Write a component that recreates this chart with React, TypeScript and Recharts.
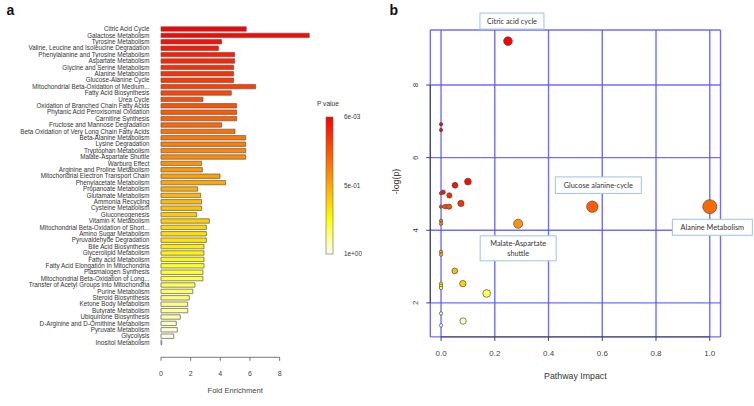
import React from 'react';
import {
  BarChart,
  Bar,
  Cell,
  XAxis,
  YAxis,
  ScatterChart,
  Scatter,
  CartesianGrid,
  ReferenceLine,
} from 'recharts';

// ---- panel a: enrichment overview ----
const pathways = [
  'Citric Acid Cycle',
  'Galactose Metabolism',
  'Tyrosine Metabolism',
  'Valine, Leucine and Isoleucine Degradation',
  'Phenylalanine and Tyrosine Metabolism',
  'Aspartate Metabolism',
  'Glycine and Serine Metabolism',
  'Alanine Metabolism',
  'Glucose-Alanine Cycle',
  'Mitochondrial Beta-Oxidation of Medium...',
  'Fatty Acid Biosynthesis',
  'Urea Cycle',
  'Oxidation of Branched Chain Fatty Acids',
  'Phytanic Acid Peroxisomal Oxidation',
  'Carnitine Synthesis',
  'Fructose and Mannose Degradation',
  'Beta Oxidation of Very Long Chain Fatty Acids',
  'Beta-Alanine Metabolism',
  'Lysine Degradation',
  'Tryptophan Metabolism',
  'Malate-Aspartate Shuttle',
  'Warburg Effect',
  'Arginine and Proline Metabolism',
  'Mitochondrial Electron Transport Chain',
  'Phenylacetate Metabolism',
  'Propanoate Metabolism',
  'Glutamate Metabolism',
  'Ammonia Recycling',
  'Cysteine Metabolism',
  'Gluconeogenesis',
  'Vitamin K Metabolism',
  'Mitochondrial Beta-Oxidation of Short...',
  'Amino Sugar Metabolism',
  'Pyruvaldehyde Degradation',
  'Bile Acid Biosynthesis',
  'Glycerolipid Metabolism',
  'Fatty acid Metabolism',
  'Fatty Acid Elongation In Mitochondria',
  'Plasmalogen Synthesis',
  'Mitochondrial Beta-Oxidation of Long...',
  'Transfer of Acetyl Groups into Mitochondria',
  'Purine Metabolism',
  'Steroid Biosynthesis',
  'Ketone Body Metabolism',
  'Butyrate Metabolism',
  'Ubiquinone Biosynthesis',
  'D-Arginine and D-Ornithine Metabolism',
  'Pyruvate Metabolism',
  'Glycolysis',
  'Inositol Metabolism',
];

const foldEnrichment = [
  5.75, 10.0, 4.09, 3.87, 4.97, 4.97, 4.9, 4.9, 4.9, 6.38,
  4.74, 2.83, 5.1, 5.1, 5.1, 4.09, 4.99, 5.71, 5.71, 5.71,
  5.71, 2.74, 2.79, 3.98, 4.36, 2.47, 2.68, 2.74, 2.74, 2.41,
  3.26, 3.06, 3.06, 3.06, 2.9, 2.9, 2.9, 2.9, 2.83, 2.83,
  2.29, 2.14, 1.91, 1.8, 1.8, 1.3, 1.03, 1.1, 0.86, 0.05,
];

const foldTicks = [0, 2, 4, 6, 8];
const pValueTicks = ['6e-03', '5e-01', '1e+00'];

// ---- panel b: pathway impact ----
const impact = [
  0.249, 0, 0, 0.1, 0.052, 0.008, 0, 0.031, 0.074, 0,
  0.016, 0.03, 0.563, 1.0, 0, 0, 0.287, 0, 0, 0.051,
  0.081, 0, 0, 0, 0.17, 0, 0.082, 0,
];
const negLogP = [
  9.21, 6.92, 6.76, 5.34, 5.24, 5.05, 5.02, 4.96, 4.74, 4.65,
  4.65, 4.65, 4.65, 4.65, 4.26, 4.18, 4.18, 3.41, 3.33, 2.88,
  2.53, 2.53, 2.47, 2.41, 2.26, 1.71, 1.5, 1.38,
];
const pointLabels = [
  'Citric acid cycle', '', '', '', '', '', '', '', '', '',
  '', '', 'Glucose alanine-cycle', 'Alanine Metabolism', '', '', 'Malate-Aspartate\nshuttle', '', '', '',
  '', '', '', '', '', '', '', '',
];
const impactTicks = [0, 0.2, 0.4, 0.6, 0.8, 1.0];
const logPTicks = [2, 4, 6, 8];

// heat.colors style ramp: red -> yellow -> near white
const heat = (t: number) => {
  if (t <= 0.75) return `rgb(255,${Math.round((255 * t) / 0.75)},0)`;
  const u = (t - 0.75) / 0.25;
  return `rgb(255,255,${Math.round(20 + 222 * u)})`;
};

const FONT = '"Liberation Sans", Arial, sans-serif';

const barData = pathways.map((name, i) => ({ name, fold: foldEnrichment[i] }));
const scatterData = impact.map((x, i) => ({
  impact: x,
  logp: negLogP[i],
  label: pointLabels[i],
  color: heat(Math.pow(i / (impact.length - 1), 1.6)),
}));
const labelled = scatterData.filter((d) => d.label);

// label box placement relative to its point
const boxStyle: Record<string, { dx: number; dy: number; w: number; h: number }> = {
  'Citric acid cycle': { dx: 4, dy: -20, w: 64, h: 16 },
  'Glucose alanine-cycle': { dx: 6, dy: -21.5, w: 86, h: 16.5 },
  'Alanine Metabolism': { dx: 2.6, dy: 20.6, w: 80, h: 16 },
  'Malate-Aspartate\nshuttle': { dx: 0, dy: 24.6, w: 76, h: 25 },
};

// bar chart geometry
const BAR_W = 320;
const BAR_MARGIN = { top: 25.8, right: 10.7, bottom: 20.2, left: 0 };
const BAR_YAXIS_W = 161;
const barPxPerUnit = (BAR_W - BAR_MARGIN.left - BAR_MARGIN.right - BAR_YAXIS_W) / 10;

const FoldTick = (props: any) => {
  const { x, y, payload } = props;
  const v = payload.value;
  return (
    <g>
      {v < 8 && (
        <line x1={x} x2={x + 2 * barPxPerUnit} y1={y + 11.5} y2={y + 11.5} stroke="#555" strokeWidth={0.8} />
      )}
      <line x1={x} x2={x} y1={y + 11.5} y2={y + 15} stroke="#555" strokeWidth={0.8} />
      <text x={x} y={y + 30} textAnchor="middle" fontSize={7} fill="#444" fontFamily={FONT}>
        {v}
      </text>
    </g>
  );
};

const PathwayTick = (props: any) => {
  const { x, y, payload } = props;
  return (
    <text x={x} y={y} dy="0.35em" textAnchor="end" fontSize={6.3} fill="#333" fontFamily={FONT}>
      {payload.value}
    </text>
  );
};

const LogPTick = (props: any) => {
  const { x, y, payload } = props;
  return (
    <text
      x={x}
      y={y}
      transform={`rotate(-90 ${x} ${y})`}
      textAnchor="middle"
      fontSize={8}
      fill="#444"
      fontFamily={FONT}
    >
      {payload.value}
    </text>
  );
};

const Dot = (props: any) => {
  const { cx, cy, payload } = props;
  const r = 1.7 + 5.3 * Math.sqrt(payload.impact);
  return <circle cx={cx} cy={cy} r={r} fill={payload.color} stroke="#4a4a4a" strokeWidth={0.7} />;
};

const LabelBox = (props: any) => {
  const { cx, cy, payload } = props;
  const s = boxStyle[payload.label];
  const lines = payload.label.split('\n');
  const bx = cx + s.dx;
  const by = cy + s.dy;
  return (
    <g>
      <rect x={bx - s.w / 2} y={by - s.h / 2} width={s.w} height={s.h} fill="#fff" stroke="#9dc3e6" strokeWidth={1} />
      {lines.map((ln: string, k: number) => (
        <text
          key={k}
          x={bx}
          y={by + (k - (lines.length - 1) / 2) * 10 + 2.6}
          textAnchor="middle"
          fontSize={7.3}
          fill="#333"
          fontFamily="Lato, sans-serif"
        >
          {ln}
        </text>
      ))}
    </g>
  );
};

const gradStops = Array.from({ length: 21 }, (_, i) => i / 20);

export default function App() {
  return (
    <div style={{ position: 'absolute', left: 0, top: 0, width: 754, height: 406, background: '#fff', fontFamily: FONT }}>
      <div style={{ position: 'absolute', left: 0, top: 0 }}>
        <BarChart width={BAR_W} height={406} data={barData} layout="vertical" margin={BAR_MARGIN}>
          <XAxis
            type="number"
            domain={[0, 10]}
            ticks={foldTicks}
            height={40}
            axisLine={false}
            tickLine={false}
            tickSize={0}
            tickMargin={0}
            tick={<FoldTick />}
            label={{ value: 'Fold Enrichment', position: 'bottom', offset: 2, fontSize: 7.6, fill: '#444', fontFamily: FONT }}
          />
          <YAxis
            type="category"
            dataKey="name"
            width={BAR_YAXIS_W}
            interval={0}
            axisLine={false}
            tickLine={false}
            tickSize={0}
            tickMargin={11.5}
            tick={<PathwayTick />}
          />
          <Bar dataKey="fold" barSize={4.4} stroke="#5a5a5a" strokeWidth={0.7} isAnimationActive={false}>
            {barData.map((d, i) => (
              <Cell key={d.name} fill={heat(i / (barData.length - 1))} />
            ))}
          </Bar>
        </BarChart>
      </div>

      <div style={{ position: 'absolute', left: 370, top: 0 }}>
        <ScatterChart width={384} height={406} margin={{ top: 30, right: 33.5, bottom: 39.1, left: 0 }}>
          <CartesianGrid stroke="#5555ff" strokeWidth={1.4} strokeOpacity={0.85} />
          <XAxis
            type="number"
            dataKey="impact"
            domain={[-0.04, 1.04]}
            ticks={impactTicks}
            tickFormatter={(v: number) => v.toFixed(1)}
            height={30}
            axisLine={false}
            tickSize={4}
            tickMargin={9}
            tickLine={{ stroke: '#444' }}
            tick={{ fontSize: 8, fill: '#444', fontFamily: FONT }}
            label={{ value: 'Pathway Impact', position: 'bottom', offset: 6, fontSize: 8.8, fill: '#333', fontFamily: FONT }}
          />
          <YAxis
            type="number"
            dataKey="logp"
            domain={[1.063, 9.516]}
            ticks={logPTicks}
            width={60.3}
            axisLine={false}
            tickSize={4}
            tickMargin={8}
            tickLine={{ stroke: '#444' }}
            tick={<LogPTick />}
            label={{
              content: (p: any) => {
                const vb = p.viewBox;
                const x = vb.x + 29;
                const y = vb.y + vb.height / 2 - 2;
                return (
                  <text x={x} y={y} transform={`rotate(-90 ${x} ${y})`} textAnchor="middle" fontSize={8.8} fill="#333" fontFamily={FONT}>
                    -log(p)
                  </text>
                );
              },
            }}
          />
          <ReferenceLine segment={[{ x: 0, y: 1.063 }, { x: 1, y: 1.063 }]} stroke="#444" strokeWidth={1} ifOverflow="visible" />
          <ReferenceLine segment={[{ x: -0.04, y: 2 }, { x: -0.04, y: 8 }]} stroke="#444" strokeWidth={1} ifOverflow="visible" />
          <Scatter data={scatterData} shape={<Dot />} isAnimationActive={false} />
          <Scatter data={labelled} shape={<LabelBox />} isAnimationActive={false} />
        </ScatterChart>
      </div>

      <svg width={754} height={406} style={{ position: 'absolute', left: 0, top: 0, pointerEvents: 'none' }}>
        <defs>
          <linearGradient id="pgrad" x1="0" y1="0" x2="0" y2="1">
            {gradStops.map((t) => (
              <stop key={t} offset={t} stopColor={heat(t)} />
            ))}
          </linearGradient>
        </defs>
        <text x={6.5} y={15} fontSize={14} fontWeight="bold" fontFamily={FONT} fill="#111">a</text>
        <text x={389.5} y={15} fontSize={14} fontWeight="bold" fontFamily={FONT} fill="#111">b</text>
        <text x={317} y={106} fontSize={6.6} fill="#333" fontFamily={FONT}>P value</text>
        <rect x={326} y={117} width={7} height={137} fill="url(#pgrad)" stroke="#666" strokeWidth={0.6} />
        {pValueTicks.map((t, i) => (
          <text key={t} x={344} y={117 + i * 68.5 + 2.3} fontSize={6.4} fill="#333" fontFamily={FONT}>
            {t}
          </text>
        ))}
      </svg>
    </div>
  );
}
